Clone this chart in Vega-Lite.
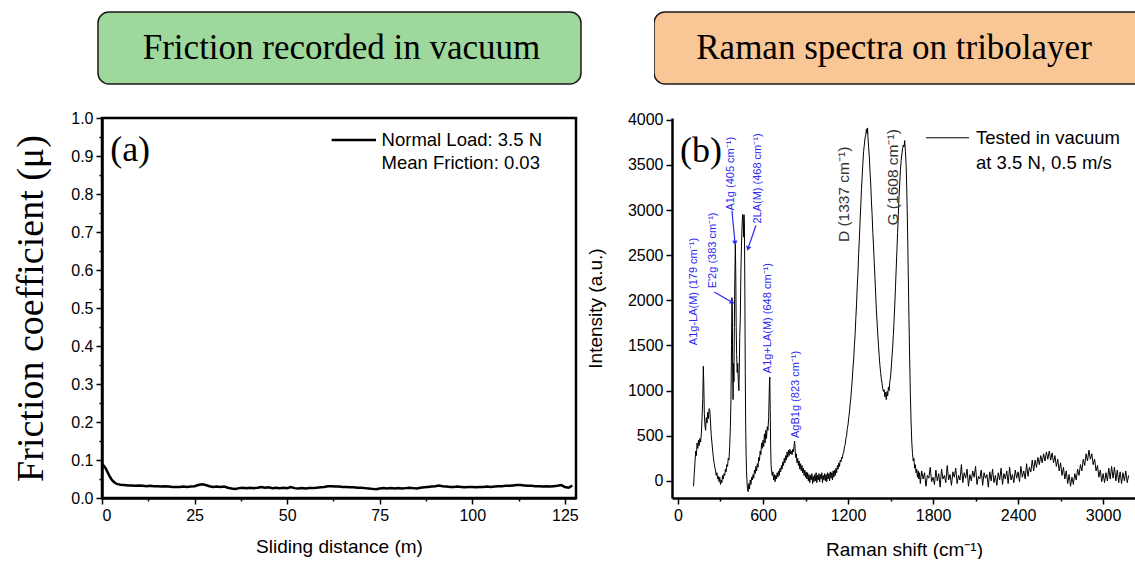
{
  "$schema": "https://vega.github.io/schema/vega-lite/v6.json",
  "padding": {"left": 11, "top": 11, "right": 0, "bottom": 0},
  "background": "white",
  "config": {
    "view": {"stroke": null},
    "axis": {
      "grid": false,
      "labelFont": "Liberation Sans",
      "labelFontSize": 16,
      "labelColor": "black",
      "labelOverlap": false,
      "titleFont": "Liberation Sans",
      "titleFontSize": 19,
      "titleFontWeight": "normal",
      "titleColor": "black",
      "tickColor": "black",
      "tickWidth": 1.5,
      "domainColor": "black",
      "domainWidth": 2.5,
      "labelPadding": 3
    }
  },
  "datasets": {
    "friction": [
      {"x": 0, "y": 0.087}, {"x": 0.5, "y": 0.085}, {"x": 1, "y": 0.078}, {"x": 1.5, "y": 0.068}, {"x": 2, "y": 0.058}, {"x": 2.5, "y": 0.05}, {"x": 3, "y": 0.044}, {"x": 3.5, "y": 0.04}, {"x": 4, "y": 0.037}, {"x": 5, "y": 0.035},
      {"x": 6, "y": 0.034}, {"x": 7, "y": 0.033}, {"x": 8, "y": 0.033}, {"x": 9, "y": 0.032}, {"x": 10, "y": 0.033}, {"x": 11, "y": 0.032}, {"x": 12, "y": 0.031}, {"x": 13, "y": 0.032}, {"x": 14, "y": 0.031}, {"x": 15, "y": 0.031},
      {"x": 16, "y": 0.030}, {"x": 17, "y": 0.031}, {"x": 18, "y": 0.030}, {"x": 19, "y": 0.029}, {"x": 20, "y": 0.029}, {"x": 21, "y": 0.029}, {"x": 22, "y": 0.030}, {"x": 23, "y": 0.029}, {"x": 24, "y": 0.030}, {"x": 25, "y": 0.031},
      {"x": 26, "y": 0.034}, {"x": 27, "y": 0.036}, {"x": 28, "y": 0.034}, {"x": 29, "y": 0.031}, {"x": 30, "y": 0.029}, {"x": 31, "y": 0.030}, {"x": 32, "y": 0.029}, {"x": 33, "y": 0.030}, {"x": 34, "y": 0.027}, {"x": 35, "y": 0.025},
      {"x": 36, "y": 0.024}, {"x": 37, "y": 0.026}, {"x": 38, "y": 0.027}, {"x": 39, "y": 0.026}, {"x": 40, "y": 0.027}, {"x": 41, "y": 0.026}, {"x": 42, "y": 0.027}, {"x": 43, "y": 0.029}, {"x": 44, "y": 0.027}, {"x": 45, "y": 0.028},
      {"x": 46, "y": 0.026}, {"x": 47, "y": 0.027}, {"x": 48, "y": 0.026}, {"x": 49, "y": 0.027}, {"x": 50, "y": 0.026}, {"x": 51, "y": 0.029}, {"x": 52, "y": 0.026}, {"x": 53, "y": 0.025}, {"x": 54, "y": 0.026}, {"x": 55, "y": 0.025},
      {"x": 56, "y": 0.026}, {"x": 57, "y": 0.026}, {"x": 58, "y": 0.027}, {"x": 59, "y": 0.028}, {"x": 60, "y": 0.029}, {"x": 61, "y": 0.031}, {"x": 62, "y": 0.031}, {"x": 63, "y": 0.030}, {"x": 64, "y": 0.030}, {"x": 65, "y": 0.029},
      {"x": 66, "y": 0.029}, {"x": 67, "y": 0.028}, {"x": 68, "y": 0.028}, {"x": 69, "y": 0.027}, {"x": 70, "y": 0.027}, {"x": 71, "y": 0.026}, {"x": 72, "y": 0.025}, {"x": 73, "y": 0.024}, {"x": 74, "y": 0.023}, {"x": 75, "y": 0.025},
      {"x": 76, "y": 0.026}, {"x": 77, "y": 0.025}, {"x": 78, "y": 0.026}, {"x": 79, "y": 0.025}, {"x": 80, "y": 0.026}, {"x": 81, "y": 0.025}, {"x": 82, "y": 0.026}, {"x": 83, "y": 0.027}, {"x": 84, "y": 0.026}, {"x": 85, "y": 0.025},
      {"x": 86, "y": 0.027}, {"x": 87, "y": 0.028}, {"x": 88, "y": 0.029}, {"x": 89, "y": 0.030}, {"x": 90, "y": 0.031}, {"x": 91, "y": 0.033}, {"x": 92, "y": 0.031}, {"x": 93, "y": 0.030}, {"x": 94, "y": 0.029}, {"x": 95, "y": 0.029},
      {"x": 96, "y": 0.030}, {"x": 97, "y": 0.029}, {"x": 98, "y": 0.028}, {"x": 99, "y": 0.029}, {"x": 100, "y": 0.029}, {"x": 101, "y": 0.028}, {"x": 102, "y": 0.029}, {"x": 103, "y": 0.029}, {"x": 104, "y": 0.030}, {"x": 105, "y": 0.029},
      {"x": 106, "y": 0.030}, {"x": 107, "y": 0.031}, {"x": 108, "y": 0.031}, {"x": 109, "y": 0.032}, {"x": 110, "y": 0.032}, {"x": 111, "y": 0.033}, {"x": 112, "y": 0.034}, {"x": 113, "y": 0.034}, {"x": 114, "y": 0.033}, {"x": 115, "y": 0.032},
      {"x": 116, "y": 0.032}, {"x": 117, "y": 0.031}, {"x": 118, "y": 0.031}, {"x": 119, "y": 0.030}, {"x": 120, "y": 0.031}, {"x": 121, "y": 0.030}, {"x": 122, "y": 0.031}, {"x": 123, "y": 0.032}, {"x": 124, "y": 0.034}, {"x": 125, "y": 0.029},
      {"x": 126, "y": 0.027}, {"x": 126.5, "y": 0.030}, {"x": 127, "y": 0.033}
    ],
    "raman": [
      {"x": 110, "y": -60}, {"x": 115, "y": 80}, {"x": 120, "y": 200}, {"x": 125, "y": 330}, {"x": 130, "y": 280}, {"x": 135, "y": 420}, {"x": 140, "y": 360}, {"x": 145, "y": 450}, {"x": 150, "y": 390}, {"x": 155, "y": 470},
      {"x": 160, "y": 430}, {"x": 165, "y": 520}, {"x": 170, "y": 700}, {"x": 175, "y": 900}, {"x": 179, "y": 1270}, {"x": 182, "y": 1100}, {"x": 186, "y": 750}, {"x": 190, "y": 620}, {"x": 195, "y": 560}, {"x": 200, "y": 700},
      {"x": 205, "y": 640}, {"x": 210, "y": 760}, {"x": 215, "y": 690}, {"x": 220, "y": 800}, {"x": 225, "y": 780}, {"x": 230, "y": 640}, {"x": 235, "y": 500}, {"x": 240, "y": 420}, {"x": 245, "y": 330}, {"x": 250, "y": 260},
      {"x": 255, "y": 200}, {"x": 260, "y": 150}, {"x": 265, "y": 120}, {"x": 270, "y": 60}, {"x": 275, "y": 90}, {"x": 280, "y": 20}, {"x": 285, "y": 50}, {"x": 290, "y": -10}, {"x": 295, "y": 40}, {"x": 300, "y": -40},
      {"x": 305, "y": 10}, {"x": 310, "y": -20}, {"x": 315, "y": 60}, {"x": 320, "y": 20}, {"x": 325, "y": 80}, {"x": 330, "y": 60}, {"x": 335, "y": 130}, {"x": 340, "y": 100}, {"x": 345, "y": 180}, {"x": 350, "y": 160},
      {"x": 355, "y": 250}, {"x": 360, "y": 230}, {"x": 365, "y": 380}, {"x": 370, "y": 600}, {"x": 374, "y": 900}, {"x": 378, "y": 1500}, {"x": 381, "y": 2030}, {"x": 384, "y": 1900}, {"x": 386, "y": 1200}, {"x": 389, "y": 900},
      {"x": 392, "y": 1300}, {"x": 395, "y": 1100}, {"x": 398, "y": 1700}, {"x": 401, "y": 2200}, {"x": 405, "y": 2620}, {"x": 408, "y": 2300}, {"x": 411, "y": 1700}, {"x": 414, "y": 1400}, {"x": 418, "y": 1200}, {"x": 422, "y": 1300},
      {"x": 426, "y": 1100}, {"x": 430, "y": 1000}, {"x": 433, "y": 1250}, {"x": 436, "y": 1600}, {"x": 440, "y": 1800}, {"x": 444, "y": 2300}, {"x": 448, "y": 2600}, {"x": 452, "y": 2800}, {"x": 456, "y": 2950}, {"x": 460, "y": 2900},
      {"x": 463, "y": 2700}, {"x": 466, "y": 2950}, {"x": 469, "y": 2850}, {"x": 472, "y": 2100}, {"x": 475, "y": 1200}, {"x": 478, "y": 600}, {"x": 481, "y": 300}, {"x": 484, "y": 100}, {"x": 487, "y": 0}, {"x": 490, "y": -80},
      {"x": 495, "y": -120}, {"x": 500, "y": -30}, {"x": 505, "y": -90}, {"x": 510, "y": 10}, {"x": 515, "y": -40}, {"x": 520, "y": 40}, {"x": 525, "y": 10}, {"x": 530, "y": 70}, {"x": 535, "y": 30}, {"x": 540, "y": 120},
      {"x": 545, "y": 80}, {"x": 550, "y": 160}, {"x": 555, "y": 110}, {"x": 560, "y": 190}, {"x": 565, "y": 150}, {"x": 570, "y": 260}, {"x": 575, "y": 220}, {"x": 580, "y": 330}, {"x": 585, "y": 290}, {"x": 590, "y": 420},
      {"x": 595, "y": 360}, {"x": 600, "y": 450}, {"x": 605, "y": 380}, {"x": 610, "y": 520}, {"x": 615, "y": 420}, {"x": 620, "y": 560}, {"x": 625, "y": 470}, {"x": 630, "y": 600}, {"x": 635, "y": 560}, {"x": 640, "y": 700},
      {"x": 645, "y": 1050}, {"x": 648, "y": 1150}, {"x": 651, "y": 800}, {"x": 654, "y": 400}, {"x": 657, "y": 180}, {"x": 660, "y": 120}, {"x": 665, "y": 60}, {"x": 670, "y": 100}, {"x": 675, "y": 10}, {"x": 680, "y": 70},
      {"x": 685, "y": -10}, {"x": 690, "y": 60}, {"x": 695, "y": 20}, {"x": 700, "y": 90}, {"x": 705, "y": 40}, {"x": 710, "y": 110}, {"x": 715, "y": 60}, {"x": 720, "y": 140}, {"x": 725, "y": 100}, {"x": 730, "y": 170},
      {"x": 735, "y": 130}, {"x": 740, "y": 210}, {"x": 745, "y": 170}, {"x": 750, "y": 250}, {"x": 755, "y": 200}, {"x": 760, "y": 280}, {"x": 765, "y": 230}, {"x": 770, "y": 320}, {"x": 775, "y": 260}, {"x": 780, "y": 340},
      {"x": 785, "y": 280}, {"x": 790, "y": 350}, {"x": 795, "y": 300}, {"x": 800, "y": 330}, {"x": 805, "y": 290}, {"x": 810, "y": 350}, {"x": 815, "y": 320}, {"x": 820, "y": 400}, {"x": 823, "y": 440}, {"x": 826, "y": 380},
      {"x": 830, "y": 260}, {"x": 835, "y": 300}, {"x": 840, "y": 200}, {"x": 845, "y": 250}, {"x": 850, "y": 170}, {"x": 855, "y": 220}, {"x": 860, "y": 130}, {"x": 865, "y": 190}, {"x": 870, "y": 110}, {"x": 875, "y": 170},
      {"x": 880, "y": 90}, {"x": 885, "y": 140}, {"x": 890, "y": 60}, {"x": 895, "y": 120}, {"x": 900, "y": 40}, {"x": 905, "y": 100}, {"x": 910, "y": 20}, {"x": 915, "y": 90}, {"x": 920, "y": 0}, {"x": 925, "y": 70},
      {"x": 930, "y": -20}, {"x": 935, "y": 60}, {"x": 940, "y": 10}, {"x": 945, "y": 80}, {"x": 950, "y": -30}, {"x": 955, "y": 50}, {"x": 960, "y": -10}, {"x": 965, "y": 70}, {"x": 970, "y": 0}, {"x": 975, "y": 90},
      {"x": 980, "y": -20}, {"x": 985, "y": 60}, {"x": 990, "y": 10}, {"x": 995, "y": 80}, {"x": 1000, "y": -10}, {"x": 1005, "y": 70}, {"x": 1010, "y": 20}, {"x": 1015, "y": 90}, {"x": 1020, "y": -20}, {"x": 1025, "y": 60},
      {"x": 1030, "y": 10}, {"x": 1035, "y": 80}, {"x": 1040, "y": 0}, {"x": 1045, "y": 70}, {"x": 1050, "y": -10}, {"x": 1055, "y": 90}, {"x": 1060, "y": 20}, {"x": 1065, "y": 80}, {"x": 1070, "y": 0}, {"x": 1075, "y": 100},
      {"x": 1080, "y": 30}, {"x": 1085, "y": 90}, {"x": 1090, "y": 10}, {"x": 1095, "y": 110}, {"x": 1100, "y": 40}, {"x": 1105, "y": 120}, {"x": 1110, "y": 60}, {"x": 1115, "y": 140}, {"x": 1120, "y": 90}, {"x": 1125, "y": 170},
      {"x": 1130, "y": 130}, {"x": 1135, "y": 200}, {"x": 1140, "y": 160}, {"x": 1145, "y": 230}, {"x": 1150, "y": 210}, {"x": 1155, "y": 260}, {"x": 1160, "y": 250}, {"x": 1165, "y": 300}, {"x": 1170, "y": 320}, {"x": 1175, "y": 380},
      {"x": 1180, "y": 400}, {"x": 1185, "y": 470}, {"x": 1190, "y": 500}, {"x": 1195, "y": 580}, {"x": 1200, "y": 620}, {"x": 1205, "y": 700}, {"x": 1210, "y": 760}, {"x": 1215, "y": 850}, {"x": 1220, "y": 920}, {"x": 1225, "y": 1030},
      {"x": 1230, "y": 1120}, {"x": 1235, "y": 1250}, {"x": 1240, "y": 1350}, {"x": 1245, "y": 1500}, {"x": 1250, "y": 1620}, {"x": 1255, "y": 1800}, {"x": 1260, "y": 1950}, {"x": 1265, "y": 2150}, {"x": 1270, "y": 2300}, {"x": 1275, "y": 2520},
      {"x": 1280, "y": 2680}, {"x": 1285, "y": 2880}, {"x": 1290, "y": 3050}, {"x": 1295, "y": 3230}, {"x": 1300, "y": 3380}, {"x": 1305, "y": 3520}, {"x": 1310, "y": 3650}, {"x": 1315, "y": 3720}, {"x": 1320, "y": 3800}, {"x": 1325, "y": 3830},
      {"x": 1330, "y": 3900}, {"x": 1335, "y": 3850}, {"x": 1338, "y": 3910}, {"x": 1341, "y": 3800}, {"x": 1345, "y": 3700}, {"x": 1350, "y": 3600}, {"x": 1355, "y": 3430}, {"x": 1360, "y": 3300}, {"x": 1365, "y": 3100}, {"x": 1370, "y": 2950},
      {"x": 1375, "y": 2750}, {"x": 1380, "y": 2600}, {"x": 1385, "y": 2420}, {"x": 1390, "y": 2250}, {"x": 1395, "y": 2070}, {"x": 1400, "y": 1900}, {"x": 1405, "y": 1760}, {"x": 1410, "y": 1620}, {"x": 1415, "y": 1500}, {"x": 1420, "y": 1380},
      {"x": 1425, "y": 1280}, {"x": 1430, "y": 1200}, {"x": 1435, "y": 1130}, {"x": 1440, "y": 1080}, {"x": 1445, "y": 1020}, {"x": 1450, "y": 990}, {"x": 1455, "y": 1010}, {"x": 1460, "y": 930}, {"x": 1465, "y": 980}, {"x": 1470, "y": 900},
      {"x": 1475, "y": 990}, {"x": 1480, "y": 940}, {"x": 1485, "y": 1040}, {"x": 1490, "y": 1000}, {"x": 1495, "y": 1100}, {"x": 1500, "y": 1150}, {"x": 1505, "y": 1250}, {"x": 1510, "y": 1370}, {"x": 1515, "y": 1480}, {"x": 1520, "y": 1620},
      {"x": 1525, "y": 1780}, {"x": 1530, "y": 1950}, {"x": 1535, "y": 2150}, {"x": 1540, "y": 2350}, {"x": 1545, "y": 2550}, {"x": 1550, "y": 2750}, {"x": 1555, "y": 2950}, {"x": 1560, "y": 3150}, {"x": 1565, "y": 3300}, {"x": 1570, "y": 3450},
      {"x": 1575, "y": 3550}, {"x": 1580, "y": 3620}, {"x": 1585, "y": 3680}, {"x": 1590, "y": 3720}, {"x": 1595, "y": 3700}, {"x": 1600, "y": 3770}, {"x": 1605, "y": 3650}, {"x": 1610, "y": 3500}, {"x": 1615, "y": 3200}, {"x": 1620, "y": 2800},
      {"x": 1625, "y": 2300}, {"x": 1630, "y": 1800}, {"x": 1635, "y": 1350}, {"x": 1640, "y": 950}, {"x": 1645, "y": 650}, {"x": 1650, "y": 430}, {"x": 1655, "y": 300}, {"x": 1660, "y": 220}, {"x": 1665, "y": 250}, {"x": 1670, "y": 140},
      {"x": 1675, "y": 180}, {"x": 1680, "y": 90}, {"x": 1685, "y": 130}, {"x": 1690, "y": 40}, {"x": 1695, "y": 110}, {"x": 1700, "y": 20}, {"x": 1705, "y": 90},
      {"x": 1710, "y": -30}, {"x": 1720, "y": 110}, {"x": 1730, "y": 20}, {"x": 1740, "y": 90}, {"x": 1750, "y": -60}, {"x": 1760, "y": 60}, {"x": 1770, "y": 30}, {"x": 1780, "y": 150}, {"x": 1790, "y": -10}, {"x": 1800, "y": 40},
      {"x": 1810, "y": -40}, {"x": 1820, "y": 120}, {"x": 1830, "y": 0}, {"x": 1840, "y": 80}, {"x": 1850, "y": -70}, {"x": 1860, "y": 130}, {"x": 1870, "y": 20}, {"x": 1880, "y": 60}, {"x": 1890, "y": -20}, {"x": 1900, "y": 170},
      {"x": 1910, "y": 10}, {"x": 1920, "y": 70}, {"x": 1930, "y": -50}, {"x": 1940, "y": 100}, {"x": 1950, "y": 40}, {"x": 1960, "y": 140}, {"x": 1970, "y": -30}, {"x": 1980, "y": 60}, {"x": 1990, "y": 10}, {"x": 2000, "y": 180},
      {"x": 2010, "y": -20}, {"x": 2020, "y": 90}, {"x": 2030, "y": 30}, {"x": 2040, "y": 130}, {"x": 2050, "y": -60}, {"x": 2060, "y": 70}, {"x": 2070, "y": 0}, {"x": 2080, "y": 110}, {"x": 2090, "y": 40}, {"x": 2100, "y": 160},
      {"x": 2110, "y": -40}, {"x": 2120, "y": 50}, {"x": 2130, "y": 20}, {"x": 2140, "y": 120}, {"x": 2150, "y": -50}, {"x": 2160, "y": 90}, {"x": 2170, "y": 30}, {"x": 2180, "y": 70}, {"x": 2190, "y": -70}, {"x": 2200, "y": 100},
      {"x": 2210, "y": 0}, {"x": 2220, "y": 130}, {"x": 2230, "y": -20}, {"x": 2240, "y": 60}, {"x": 2250, "y": -50}, {"x": 2260, "y": 90}, {"x": 2270, "y": 10}, {"x": 2280, "y": 140}, {"x": 2290, "y": -40}, {"x": 2300, "y": 80},
      {"x": 2310, "y": 20}, {"x": 2320, "y": 110}, {"x": 2330, "y": -30}, {"x": 2340, "y": 150}, {"x": 2350, "y": 10}, {"x": 2360, "y": 70}, {"x": 2370, "y": -20}, {"x": 2380, "y": 120}, {"x": 2390, "y": 30}, {"x": 2400, "y": 100},
      {"x": 2410, "y": -10}, {"x": 2420, "y": 160}, {"x": 2430, "y": 40}, {"x": 2440, "y": 110}, {"x": 2450, "y": 20}, {"x": 2460, "y": 190}, {"x": 2470, "y": 50}, {"x": 2480, "y": 150}, {"x": 2490, "y": 100}, {"x": 2500, "y": 230},
      {"x": 2510, "y": 110}, {"x": 2520, "y": 230}, {"x": 2530, "y": 150}, {"x": 2540, "y": 260}, {"x": 2550, "y": 180}, {"x": 2560, "y": 280}, {"x": 2570, "y": 200}, {"x": 2580, "y": 300}, {"x": 2590, "y": 220}, {"x": 2600, "y": 320},
      {"x": 2610, "y": 240}, {"x": 2620, "y": 330}, {"x": 2630, "y": 230}, {"x": 2640, "y": 310}, {"x": 2650, "y": 200}, {"x": 2660, "y": 280}, {"x": 2670, "y": 160}, {"x": 2680, "y": 240}, {"x": 2690, "y": 110}, {"x": 2700, "y": 200},
      {"x": 2710, "y": 60}, {"x": 2720, "y": 150}, {"x": 2730, "y": 20}, {"x": 2740, "y": 110}, {"x": 2750, "y": -30}, {"x": 2760, "y": 70}, {"x": 2770, "y": -60}, {"x": 2780, "y": 40}, {"x": 2790, "y": -40}, {"x": 2800, "y": 80},
      {"x": 2810, "y": 10}, {"x": 2820, "y": 130}, {"x": 2830, "y": 60}, {"x": 2840, "y": 180}, {"x": 2850, "y": 110}, {"x": 2860, "y": 240}, {"x": 2870, "y": 170}, {"x": 2880, "y": 300}, {"x": 2890, "y": 220}, {"x": 2900, "y": 340},
      {"x": 2910, "y": 240}, {"x": 2920, "y": 300}, {"x": 2930, "y": 180}, {"x": 2940, "y": 240}, {"x": 2950, "y": 110}, {"x": 2960, "y": 170}, {"x": 2970, "y": 40}, {"x": 2980, "y": 120}, {"x": 2990, "y": -10}, {"x": 3000, "y": 80},
      {"x": 3010, "y": -20}, {"x": 3020, "y": 90}, {"x": 3030, "y": 0}, {"x": 3040, "y": 140}, {"x": 3050, "y": 20}, {"x": 3060, "y": 160}, {"x": 3070, "y": 30}, {"x": 3080, "y": 150}, {"x": 3090, "y": 0}, {"x": 3100, "y": 120},
      {"x": 3110, "y": -20}, {"x": 3120, "y": 100}, {"x": 3130, "y": -30}, {"x": 3140, "y": 90}, {"x": 3150, "y": 0}, {"x": 3160, "y": 110}, {"x": 3170, "y": -20}, {"x": 3180, "y": 60}
    ],
    "blueLabels": [
      {"x": 115, "y": 1503, "t": "A1g-LA(M) (179 cm⁻¹)"},
      {"x": 245, "y": 2133, "t": "E'2g (383 cm⁻¹)"},
      {"x": 374, "y": 2994, "t": "A1g (405 cm⁻¹)"},
      {"x": 567, "y": 2850, "t": "2LA(M) (468 cm⁻¹)"},
      {"x": 633, "y": 1193, "t": "A1g+LA(M) (648 cm⁻¹)"},
      {"x": 833, "y": 475, "t": "AgB1g (823 cm⁻¹)"}
    ],
    "grayLabels": [
      {"x": 1174, "y": 2645, "t": "D (1337 cm⁻¹)"},
      {"x": 1515, "y": 2829, "t": "G (1608 cm⁻¹)"}
    ],
    "arrows": [
      {"id": "E2g", "x": 256, "y": 2092, "x2": 379, "y2": 1981},
      {"id": "A1g", "x": 381, "y": 2994, "x2": 402, "y2": 2644},
      {"id": "LA", "x": 550, "y": 2829, "x2": 496, "y2": 2582}
    ]
  },
  "bounds": "flush",
  "spacing": 107,
  "vconcat": [
    {
      "bounds": "flush",
      "spacing": 73,
      "hconcat": [
        {
          "width": 479,
          "height": 74,
          "data": {"values": [{"x": -0.0084, "x2": 1, "y": 0, "y2": 1, "tx": 0.5, "ty": 0.5, "t": "Friction recorded in vacuum"}]},
          "layer": [
            {
              "mark": {"type": "rect", "fill": "#9fd89c", "stroke": "#1a1a1a", "strokeWidth": 1.5, "cornerRadius": 11},
              "encoding": {
                "x": {"field": "x", "type": "quantitative", "scale": {"domain": [0, 1], "nice": false, "zero": false}, "axis": null},
                "x2": {"field": "x2"},
                "y": {"field": "y", "type": "quantitative", "scale": {"domain": [-0.014, 1.014], "nice": false, "zero": false}, "axis": null},
                "y2": {"field": "y2"}
              }
            },
            {
              "mark": {"type": "text", "font": "Liberation Serif", "fontSize": 35, "color": "black", "align": "center", "baseline": "middle"},
              "encoding": {
                "x": {"field": "tx", "type": "quantitative", "axis": null},
                "y": {"field": "ty", "type": "quantitative", "axis": null},
                "text": {"field": "t"}
              }
            }
          ]
        },
        {
          "width": 482,
          "height": 74,
          "data": {"values": [{"x": 0, "x2": 1.05, "y": 0, "y2": 1, "tx": 0.498, "ty": 0.5, "t": "Raman spectra on tribolayer"}]},
          "layer": [
            {
              "mark": {"type": "rect", "fill": "#f9c795", "stroke": "#1a1a1a", "strokeWidth": 1.5, "cornerRadius": 11, "clip": true},
              "encoding": {
                "x": {"field": "x", "type": "quantitative", "scale": {"domain": [0, 1], "nice": false, "zero": false}, "axis": null},
                "x2": {"field": "x2"},
                "y": {"field": "y", "type": "quantitative", "scale": {"domain": [-0.014, 1.014], "nice": false, "zero": false}, "axis": null},
                "y2": {"field": "y2"}
              }
            },
            {
              "mark": {"type": "text", "font": "Liberation Serif", "fontSize": 35, "color": "black", "align": "center", "baseline": "middle"},
              "encoding": {
                "x": {"field": "tx", "type": "quantitative", "axis": null},
                "y": {"field": "ty", "type": "quantitative", "axis": null},
                "text": {"field": "t"}
              }
            }
          ]
        }
      ]
    },
    {
      "bounds": "flush",
      "spacing": 96,
      "hconcat": [
        {
          "width": 474,
          "height": 380,
          "view": {"stroke": "black", "strokeWidth": 2.5},
          "layer": [
            {
              "data": {"name": "friction"},
              "mark": {"type": "line", "color": "black", "strokeWidth": 2.5, "clip": true},
              "encoding": {
                "x": {
                  "field": "x", "type": "quantitative",
                  "scale": {"domain": [0, 128], "nice": false, "zero": false},
                  "axis": {
                    "title": "Sliding distance (m)",
                    "values": [0, 12.5, 25, 37.5, 50, 62.5, 75, 87.5, 100, 112.5, 125],
                    "tickCount": 100,
                    "labelExpr": "datum.value % 25 === 0 ? format(datum.value, 'd') : ''",
                    "labelOverlap": false,
                    "tickSize": {"condition": {"test": "datum.value % 25 !== 0", "value": 3}, "value": 6},
                    "titlePadding": 14
                  }
                },
                "y": {
                  "field": "y", "type": "quantitative",
                  "scale": {"domain": [0, 1], "nice": false, "zero": false},
                  "axis": {
                    "title": "Friction coefficient (μ)",
                    "titleFont": "Liberation Serif",
                    "titleFontSize": 38,
                    "titlePadding": 20,
                    "values": [0, 0.05, 0.1, 0.15, 0.2, 0.25, 0.3, 0.35, 0.4, 0.45, 0.5, 0.55, 0.6, 0.65, 0.7, 0.75, 0.8, 0.85, 0.9, 0.95, 1],
                    "tickCount": 100,
                    "labelExpr": "abs(datum.value * 10 - round(datum.value * 10)) < 0.01 ? format(datum.value, '.1f') : ''",
                    "labelOverlap": false,
                    "tickSize": {"condition": {"test": "abs(datum.value * 10 - round(datum.value * 10)) > 0.01", "value": 3}, "value": 6}
                  }
                }
              }
            },
            {
              "data": {"values": [{"x": 62, "x2": 74, "y": 0.942}]},
              "mark": {"type": "rule", "color": "black", "strokeWidth": 2.5},
              "encoding": {
                "x": {"field": "x", "type": "quantitative"},
                "x2": {"field": "x2"},
                "y": {"field": "y", "type": "quantitative"}
              }
            },
            {
              "data": {"values": [{"x": 75.5, "y": 0.942, "t": "Normal Load: 3.5 N"}, {"x": 75.5, "y": 0.882, "t": "Mean Friction: 0.03"}]},
              "mark": {"type": "text", "font": "Liberation Sans", "fontSize": 18.5, "color": "black", "align": "left", "baseline": "middle"},
              "encoding": {
                "x": {"field": "x", "type": "quantitative"},
                "y": {"field": "y", "type": "quantitative"},
                "text": {"field": "t"}
              }
            },
            {
              "data": {"values": [{"x": 2.2, "y": 0.916, "t": "(a)"}]},
              "mark": {"type": "text", "font": "Liberation Serif", "fontSize": 36, "color": "black", "align": "left", "baseline": "middle"},
              "encoding": {
                "x": {"field": "x", "type": "quantitative"},
                "y": {"field": "y", "type": "quantitative"},
                "text": {"field": "t"}
              }
            }
          ]
        },
        {
          "width": 464,
          "height": 380,
          "layer": [
            {
              "data": {"name": "raman"},
              "mark": {"type": "line", "color": "black", "strokeWidth": 1, "clip": true},
              "encoding": {
                "x": {
                  "field": "x", "type": "quantitative",
                  "scale": {"domain": [-42, 3232], "nice": false, "zero": false},
                  "axis": {
                    "title": "Raman shift (cm⁻¹)",
                    "values": [0, 300, 600, 900, 1200, 1500, 1800, 2100, 2400, 2700, 3000],
                    "tickCount": 100,
                    "labelExpr": "datum.value % 600 === 0 ? format(datum.value, 'd') : ''",
                    "labelOverlap": false,
                    "tickSize": {"condition": {"test": "datum.value % 600 !== 0", "value": 3}, "value": 6},
                    "titlePadding": 17
                  }
                },
                "y": {
                  "field": "y", "type": "quantitative",
                  "scale": {"domain": [-190, 4020], "nice": false, "zero": false},
                  "axis": {
                    "title": "Intensity (a.u.)",
                    "values": [0, 500, 1000, 1500, 2000, 2500, 3000, 3500, 4000],
                    "tickCount": 100,
                    "format": "d",
                    "labelOverlap": false,
                    "tickSize": 6,
                    "titlePadding": 22
                  }
                }
              }
            },
            {
              "mark": {"type": "rule", "color": "black", "strokeWidth": 2.5},
              "encoding": {"y": {"datum": 4020}}
            },
            {
              "data": {"values": [{"x": 1750, "x2": 2054, "y": 3801}]},
              "mark": {"type": "rule", "color": "black", "strokeWidth": 1},
              "encoding": {
                "x": {"field": "x", "type": "quantitative"},
                "x2": {"field": "x2"},
                "y": {"field": "y", "type": "quantitative"}
              }
            },
            {
              "data": {"values": [{"x": 2103, "y": 3801, "t": "Tested in vacuum"}, {"x": 2103, "y": 3517, "t": "at 3.5 N, 0.5 m/s"}]},
              "mark": {"type": "text", "font": "Liberation Sans", "fontSize": 18.5, "color": "black", "align": "left", "baseline": "middle"},
              "encoding": {
                "x": {"field": "x", "type": "quantitative"},
                "y": {"field": "y", "type": "quantitative"},
                "text": {"field": "t"}
              }
            },
            {
              "data": {"values": [{"x": 14, "y": 3657, "t": "(b)"}]},
              "mark": {"type": "text", "font": "Liberation Serif", "fontSize": 36, "color": "black", "align": "left", "baseline": "middle"},
              "encoding": {
                "x": {"field": "x", "type": "quantitative"},
                "y": {"field": "y", "type": "quantitative"},
                "text": {"field": "t"}
              }
            },
            {
              "data": {"name": "blueLabels"},
              "mark": {"type": "text", "font": "Liberation Sans", "fontSize": 11, "color": "#2a2af0", "angle": 270, "align": "left", "baseline": "middle"},
              "encoding": {
                "x": {"field": "x", "type": "quantitative"},
                "y": {"field": "y", "type": "quantitative"},
                "text": {"field": "t"}
              }
            },
            {
              "data": {"name": "grayLabels"},
              "mark": {"type": "text", "font": "Liberation Sans", "fontSize": 15.5, "color": "#333333", "angle": 270, "align": "left", "baseline": "middle"},
              "encoding": {
                "x": {"field": "x", "type": "quantitative"},
                "y": {"field": "y", "type": "quantitative"},
                "text": {"field": "t"}
              }
            },
            {
              "data": {"name": "arrows"},
              "mark": {"type": "rule", "color": "#2a2af0", "strokeWidth": 1.2},
              "encoding": {
                "x": {"field": "x", "type": "quantitative"},
                "x2": {"field": "x2"},
                "y": {"field": "y", "type": "quantitative"},
                "y2": {"field": "y2"}
              }
            },
            {
              "data": {"name": "arrows"},
              "transform": [{"filter": "datum.id === 'E2g'"}],
              "mark": {"type": "point", "shape": "triangle", "filled": true, "color": "#2a2af0", "size": 30, "angle": 120, "opacity": 1},
              "encoding": {
                "x": {"field": "x2", "type": "quantitative"},
                "y": {"field": "y2", "type": "quantitative"}
              }
            },
            {
              "data": {"name": "arrows"},
              "transform": [{"filter": "datum.id === 'A1g'"}],
              "mark": {"type": "point", "shape": "triangle", "filled": true, "color": "#2a2af0", "size": 30, "angle": 175, "opacity": 1},
              "encoding": {
                "x": {"field": "x2", "type": "quantitative"},
                "y": {"field": "y2", "type": "quantitative"}
              }
            },
            {
              "data": {"name": "arrows"},
              "transform": [{"filter": "datum.id === 'LA'"}],
              "mark": {"type": "point", "shape": "triangle", "filled": true, "color": "#2a2af0", "size": 30, "angle": 199, "opacity": 1},
              "encoding": {
                "x": {"field": "x2", "type": "quantitative"},
                "y": {"field": "y2", "type": "quantitative"}
              }
            }
          ]
        }
      ]
    }
  ]
}
